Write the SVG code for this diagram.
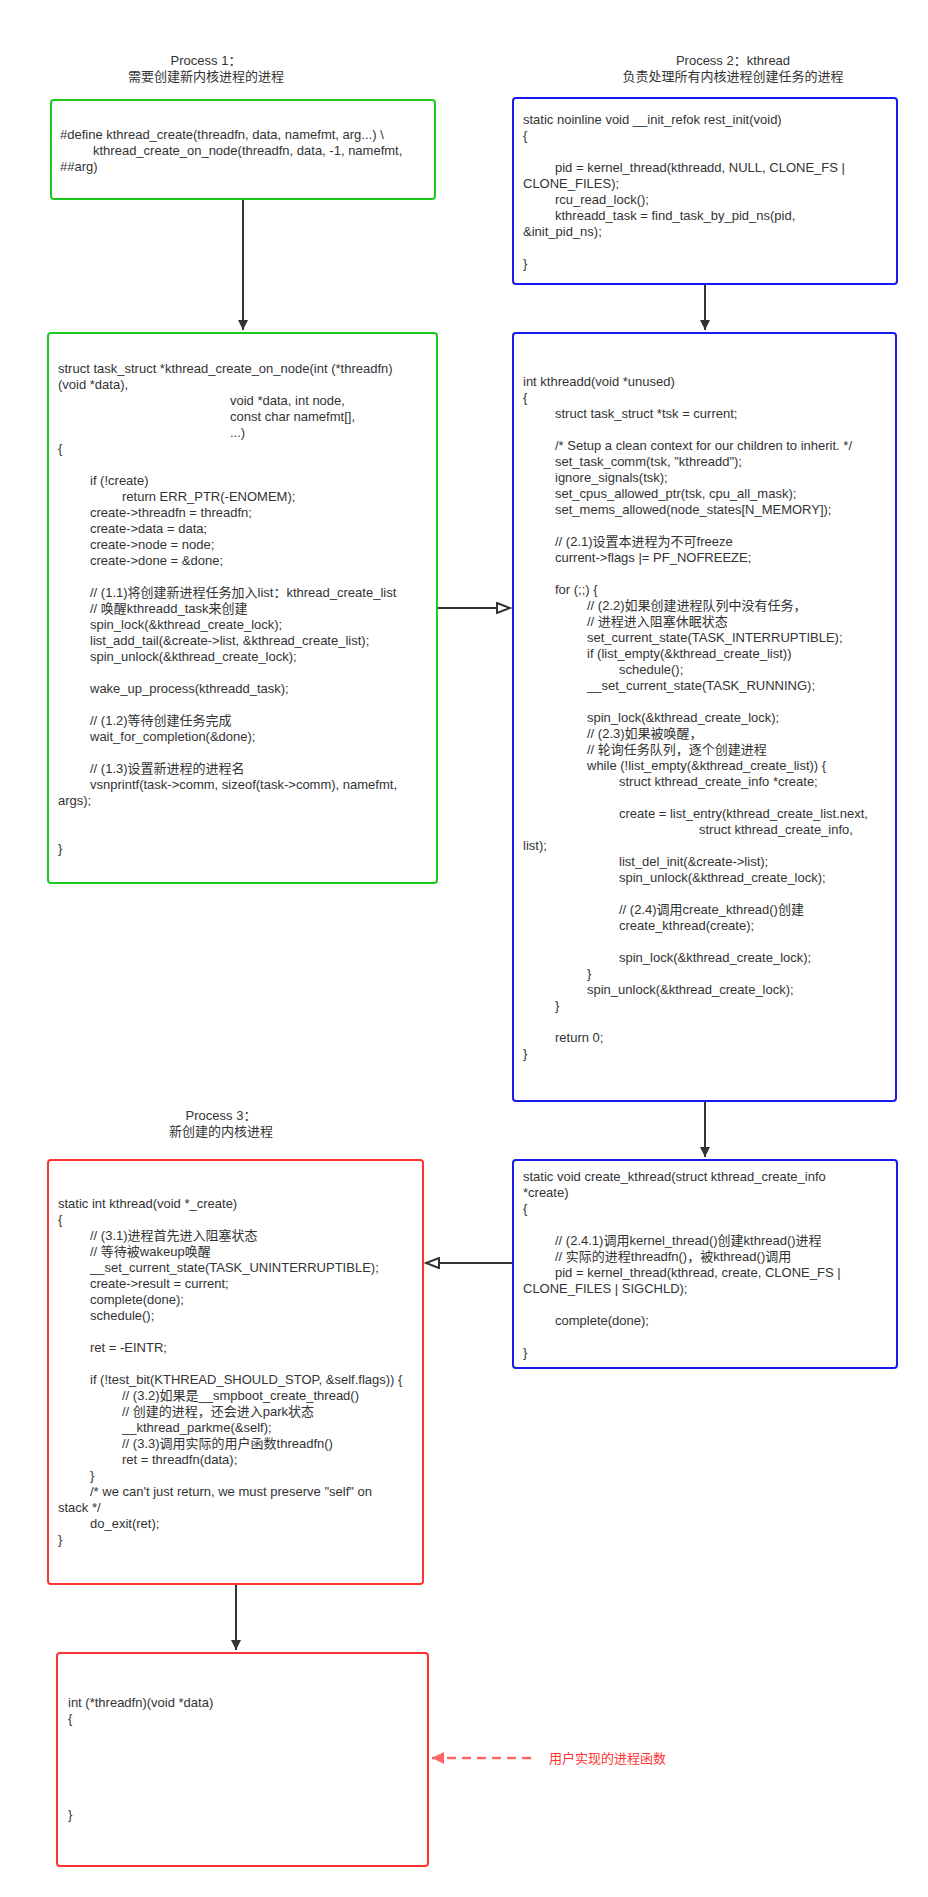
<svg xmlns="http://www.w3.org/2000/svg" width="928" height="1897" viewBox="0 0 928 1897">
<style>
text{font-family:"Liberation Sans","Noto Sans CJK SC",sans-serif;font-size:13px;fill:#333}
.t{text-anchor:middle}
.box{fill:#fff;stroke-width:2}
.g{stroke:#1ec81e}.b{stroke:#1a1aee}.r{stroke:#f33}
.c{stroke:#333;stroke-width:2;fill:none}
</style>
<defs>
<marker id="solid" markerWidth="12" markerHeight="12" refX="10" refY="5" orient="auto" markerUnits="userSpaceOnUse"><path d="M0,0 L10,5 L0,10 z" fill="#333"/></marker>
<marker id="open" markerWidth="16" markerHeight="12" refX="14" refY="6" orient="auto" markerUnits="userSpaceOnUse"><path d="M1,1 L14,6 L1,11 z" fill="#fff" stroke="#333" stroke-width="2"/></marker>
<marker id="red" markerWidth="14" markerHeight="14" refX="12" refY="6" orient="auto" markerUnits="userSpaceOnUse"><path d="M0,0 L12,6 L0,12 z" fill="#f66"/></marker>
</defs>
<rect width="928" height="1897" fill="#fff"/>
<g id="titles">
<text class="t" x="206" y="65">Process 1：</text><text class="t" x="206" y="81">需要创建新内核进程的进程</text>
<text class="t" x="733" y="65">Process 2：kthread</text><text class="t" x="733" y="81">负责处理所有内核进程创建任务的进程</text>
<text class="t" x="221" y="1120">Process 3：</text><text class="t" x="221" y="1136">新创建的内核进程</text>
</g>
<g id="connectors">
<line class="c" x1="243" y1="199" x2="243" y2="330" marker-end="url(#solid)"/>
<line class="c" x1="705" y1="284" x2="705" y2="330" marker-end="url(#solid)"/>
<line class="c" x1="437" y1="608" x2="510" y2="608" marker-end="url(#open)"/>
<line class="c" x1="705" y1="1101" x2="705" y2="1157" marker-end="url(#solid)"/>
<line class="c" x1="513" y1="1263" x2="426" y2="1263" marker-end="url(#open)"/>
<line class="c" x1="236" y1="1584" x2="236" y2="1650" marker-end="url(#solid)"/>
<line x1="531" y1="1758" x2="432" y2="1758" stroke="#f66" stroke-width="2.5" stroke-dasharray="9,6" marker-end="url(#red)"/>
</g>
<g id="n1">
<rect class="box g" x="51" y="100" width="384" height="99" rx="3"/>
<text x="60" y="139">#define kthread_create(threadfn, data, namefmt, arg...) \</text>
<text x="93" y="155">kthread_create_on_node(threadfn, data, -1, namefmt,</text>
<text x="60" y="171">##arg)</text>
</g>
<g id="n2">
<rect class="box b" x="513" y="98" width="384" height="186" rx="3"/>
<text x="523" y="124">static noinline void __init_refok rest_init(void)</text>
<text x="523" y="140">{</text>
<text x="555" y="172">pid = kernel_thread(kthreadd, NULL, CLONE_FS |</text>
<text x="523" y="188">CLONE_FILES);</text>
<text x="555" y="204">rcu_read_lock();</text>
<text x="555" y="220">kthreadd_task = find_task_by_pid_ns(pid,</text>
<text x="523" y="236">&amp;init_pid_ns);</text>
<text x="523" y="268">}</text>
</g>
<g id="n3">
<rect class="box g" x="48" y="333" width="389" height="550" rx="3"/>
<text x="58" y="373">struct task_struct *kthread_create_on_node(int (*threadfn)</text>
<text x="58" y="389">(void *data),</text>
<text x="230" y="405">void *data, int node,</text>
<text x="230" y="421">const char namefmt[],</text>
<text x="230" y="437">...)</text>
<text x="58" y="453">{</text>
<text x="90" y="485">if (!create)</text>
<text x="122" y="501">return ERR_PTR(-ENOMEM);</text>
<text x="90" y="517">create-&gt;threadfn = threadfn;</text>
<text x="90" y="533">create-&gt;data = data;</text>
<text x="90" y="549">create-&gt;node = node;</text>
<text x="90" y="565">create-&gt;done = &amp;done;</text>
<text x="90" y="597">// (1.1)将创建新进程任务加入list：kthread_create_list</text>
<text x="90" y="613">// 唤醒kthreadd_task来创建</text>
<text x="90" y="629">spin_lock(&amp;kthread_create_lock);</text>
<text x="90" y="645">list_add_tail(&amp;create-&gt;list, &amp;kthread_create_list);</text>
<text x="90" y="661">spin_unlock(&amp;kthread_create_lock);</text>
<text x="90" y="693">wake_up_process(kthreadd_task);</text>
<text x="90" y="725">// (1.2)等待创建任务完成</text>
<text x="90" y="741">wait_for_completion(&amp;done);</text>
<text x="90" y="773">// (1.3)设置新进程的进程名</text>
<text x="90" y="789">vsnprintf(task-&gt;comm, sizeof(task-&gt;comm), namefmt,</text>
<text x="58" y="805">args);</text>
<text x="58" y="853">}</text>
</g>
<g id="n4">
<rect class="box b" x="513" y="333" width="383" height="768" rx="3"/>
<text x="523" y="386">int kthreadd(void *unused)</text>
<text x="523" y="402">{</text>
<text x="555" y="418">struct task_struct *tsk = current;</text>
<text x="555" y="450">/* Setup a clean context for our children to inherit. */</text>
<text x="555" y="466">set_task_comm(tsk, "kthreadd");</text>
<text x="555" y="482">ignore_signals(tsk);</text>
<text x="555" y="498">set_cpus_allowed_ptr(tsk, cpu_all_mask);</text>
<text x="555" y="514">set_mems_allowed(node_states[N_MEMORY]);</text>
<text x="555" y="546">// (2.1)设置本进程为不可freeze</text>
<text x="555" y="562">current-&gt;flags |= PF_NOFREEZE;</text>
<text x="555" y="594">for (;;) {</text>
<text x="587" y="610">// (2.2)如果创建进程队列中没有任务，</text>
<text x="587" y="626">// 进程进入阻塞休眠状态</text>
<text x="587" y="642">set_current_state(TASK_INTERRUPTIBLE);</text>
<text x="587" y="658">if (list_empty(&amp;kthread_create_list))</text>
<text x="619" y="674">schedule();</text>
<text x="587" y="690">__set_current_state(TASK_RUNNING);</text>
<text x="587" y="722">spin_lock(&amp;kthread_create_lock);</text>
<text x="587" y="738">// (2.3)如果被唤醒，</text>
<text x="587" y="754">// 轮询任务队列，逐个创建进程</text>
<text x="587" y="770">while (!list_empty(&amp;kthread_create_list)) {</text>
<text x="619" y="786">struct kthread_create_info *create;</text>
<text x="619" y="818">create = list_entry(kthread_create_list.next,</text>
<text x="699" y="834">struct kthread_create_info,</text>
<text x="523" y="850">list);</text>
<text x="619" y="866">list_del_init(&amp;create-&gt;list);</text>
<text x="619" y="882">spin_unlock(&amp;kthread_create_lock);</text>
<text x="619" y="914">// (2.4)调用create_kthread()创建</text>
<text x="619" y="930">create_kthread(create);</text>
<text x="619" y="962">spin_lock(&amp;kthread_create_lock);</text>
<text x="587" y="978">}</text>
<text x="587" y="994">spin_unlock(&amp;kthread_create_lock);</text>
<text x="555" y="1010">}</text>
<text x="555" y="1042">return 0;</text>
<text x="523" y="1058">}</text>
</g>
<g id="n5">
<rect class="box b" x="513" y="1160" width="384" height="208" rx="3"/>
<text x="523" y="1181">static void create_kthread(struct kthread_create_info</text>
<text x="523" y="1197">*create)</text>
<text x="523" y="1213">{</text>
<text x="555" y="1245">// (2.4.1)调用kernel_thread()创建kthread()进程</text>
<text x="555" y="1261">// 实际的进程threadfn()，被kthread()调用</text>
<text x="555" y="1277">pid = kernel_thread(kthread, create, CLONE_FS |</text>
<text x="523" y="1293">CLONE_FILES | SIGCHLD);</text>
<text x="555" y="1325">complete(done);</text>
<text x="523" y="1357">}</text>
</g>
<g id="n6">
<rect class="box r" x="48" y="1160" width="375" height="424" rx="3"/>
<text x="58" y="1208">static int kthread(void *_create)</text>
<text x="58" y="1224">{</text>
<text x="90" y="1240">// (3.1)进程首先进入阻塞状态</text>
<text x="90" y="1256">// 等待被wakeup唤醒</text>
<text x="90" y="1272">__set_current_state(TASK_UNINTERRUPTIBLE);</text>
<text x="90" y="1288">create-&gt;result = current;</text>
<text x="90" y="1304">complete(done);</text>
<text x="90" y="1320">schedule();</text>
<text x="90" y="1352">ret = -EINTR;</text>
<text x="90" y="1384">if (!test_bit(KTHREAD_SHOULD_STOP, &amp;self.flags)) {</text>
<text x="122" y="1400">// (3.2)如果是__smpboot_create_thread()</text>
<text x="122" y="1416">// 创建的进程，还会进入park状态</text>
<text x="122" y="1432">__kthread_parkme(&amp;self);</text>
<text x="122" y="1448">// (3.3)调用实际的用户函数threadfn()</text>
<text x="122" y="1464">ret = threadfn(data);</text>
<text x="90" y="1480">}</text>
<text x="90" y="1496">/* we can't just return, we must preserve "self" on</text>
<text x="58" y="1512">stack */</text>
<text x="90" y="1528">do_exit(ret);</text>
<text x="58" y="1544">}</text>
</g>
<g id="n7">
<rect class="box r" x="57" y="1653" width="371" height="213" rx="3"/>
<text x="68" y="1707">int (*threadfn)(void *data)</text>
<text x="68" y="1723">{</text>
<text x="68" y="1819">}</text>
</g>
<g id="label">
<text x="549" y="1763" style="fill:#f33">用户实现的进程函数</text>
</g>
</svg>
